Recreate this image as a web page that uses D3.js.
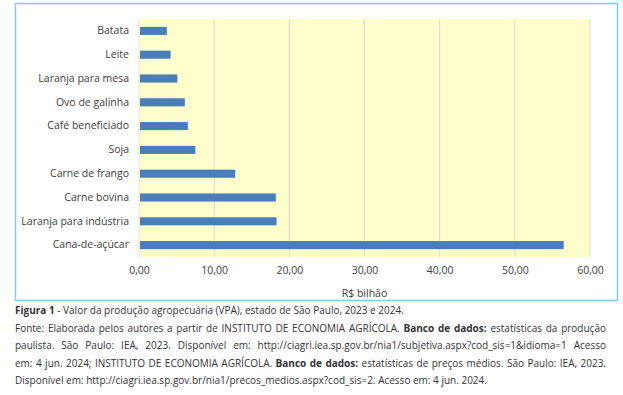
<!DOCTYPE html>
<html>
<head>
<meta charset="utf-8">
<script src="https://cdn.jsdelivr.net/npm/d3@7"></script>
<style>
  body { margin: 0; background: #fff; }
  #wrap { position: relative; width: 623px; height: 395px; }
  svg { position: absolute; left: 0; top: 0; }
  .caption {
    position: absolute; left: 15px; top: 302px; width: 591px;
    font-family: "Open Sans", sans-serif; font-size: 10px; line-height: 17.6px;
    color: #333;
  }
  .caption div { white-space: nowrap; }
  .caption .full { text-align: justify; text-align-last: justify; white-space: normal; }
  .caption b { font-weight: 700; }
</style>
</head>
<body>
<div id="wrap">
  <svg id="chart" width="623" height="395"></svg>
  <div class="caption">
    <div><b>Figura 1</b> - Valor da produção agropecuária (VPA), estado de São Paulo, 2023 e 2024.</div>
    <div class="full">Fonte: Elaborada pelos autores a partir de INSTITUTO DE ECONOMIA AGRÍCOLA. <b>Banco de dados:</b> estatísticas da produção</div>
    <div class="full">paulista. São Paulo: IEA, 2023. Disponível em: http://ciagri.iea.sp.gov.br/nia1/subjetiva.aspx?cod_sis=1&amp;idioma=1 Acesso</div>
    <div class="full">em: 4 jun. 2024; INSTITUTO DE ECONOMIA AGRÍCOLA. <b>Banco de dados:</b> estatísticas de preços médios. São Paulo: IEA, 2023.</div>
    <div>Disponível em: http://ciagri.iea.sp.gov.br/nia1/precos_medios.aspx?cod_sis=2. Acesso em: 4 jun. 2024.</div>
  </div>
</div>
<script>
// culture values, top to bottom as drawn
const categories = [
  "Batata", "Leite", "Laranja para mesa", "Ovo de galinha", "Café beneficiado",
  "Soja", "Carne de frango", "Carne bovina", "Laranja para indústria", "Cana-de-açúcar"
];
const values = [3.7, 4.2, 5.1, 6.1, 6.5, 7.5, 12.8, 18.2, 18.3, 56.5];
const xTicks = [0, 10, 20, 30, 40, 50, 60];
const axisTitle = "R$ bilhão";

const svg = d3.select("#chart");
const font = "'Open Sans', sans-serif";

// outer chart frame
svg.append("rect")
  .attr("x", 15.5).attr("y", 3.5)
  .attr("width", 602).attr("height", 297)
  .attr("fill", "#fff")
  .attr("stroke", "#7fcbe6").attr("stroke-width", 1.5);

const plot = { left: 139, right: 590, top: 19, bottom: 257 };

const x = d3.scaleLinear().domain([0, 60]).range([plot.left, plot.right]);
const y = d3.scaleBand().domain(categories)
  .range([plot.top, plot.bottom]).paddingInner(0.66).paddingOuter(0.33);

svg.append("rect")
  .attr("x", plot.left).attr("y", plot.top)
  .attr("width", plot.right - plot.left).attr("height", plot.bottom - plot.top)
  .attr("fill", "#ffffcc");

// vertical grid
svg.append("g").selectAll("line").data(xTicks).join("line")
  .attr("x1", d => x(d)).attr("x2", d => x(d))
  .attr("y1", plot.top).attr("y2", plot.bottom)
  .attr("stroke", d => d === 0 ? "#e6e6d0" : "#d9d9d0").attr("stroke-width", 1);

// bars
svg.append("g").selectAll("rect").data(categories).join("rect")
  .attr("x", x(0) + 1)
  .attr("y", d => y(d))
  .attr("width", (d, i) => x(values[i]) - x(0) - 1)
  .attr("height", y.bandwidth())
  .attr("fill", "#4a7ebb");

// category labels
const yAxis = svg.append("g")
  .attr("transform", `translate(${plot.left},0)`)
  .call(d3.axisLeft(y).tickSize(0).tickPadding(10));
yAxis.select(".domain").remove();
yAxis.selectAll("text")
  .attr("font-family", font).attr("font-size", 10.5).attr("fill", "#404040");

// x axis labels
const locale = d3.formatLocale({ decimal: ",", thousands: ".", grouping: [3], currency: ["R$", ""] });
const xAxis = svg.append("g")
  .attr("transform", `translate(0,${plot.bottom})`)
  .call(d3.axisBottom(x).tickValues(xTicks).tickFormat(locale.format(".2f")).tickSize(0).tickPadding(10));
xAxis.select(".domain").remove();
xAxis.selectAll("text")
  .attr("font-family", font).attr("font-size", 10.5).attr("fill", "#404040");

svg.append("text")
  .attr("x", (plot.left + plot.right) / 2).attr("y", 297)
  .attr("text-anchor", "middle")
  .attr("font-family", font).attr("font-size", 10.5).attr("fill", "#404040")
  .text(axisTitle);
</script>
</body>
</html>
